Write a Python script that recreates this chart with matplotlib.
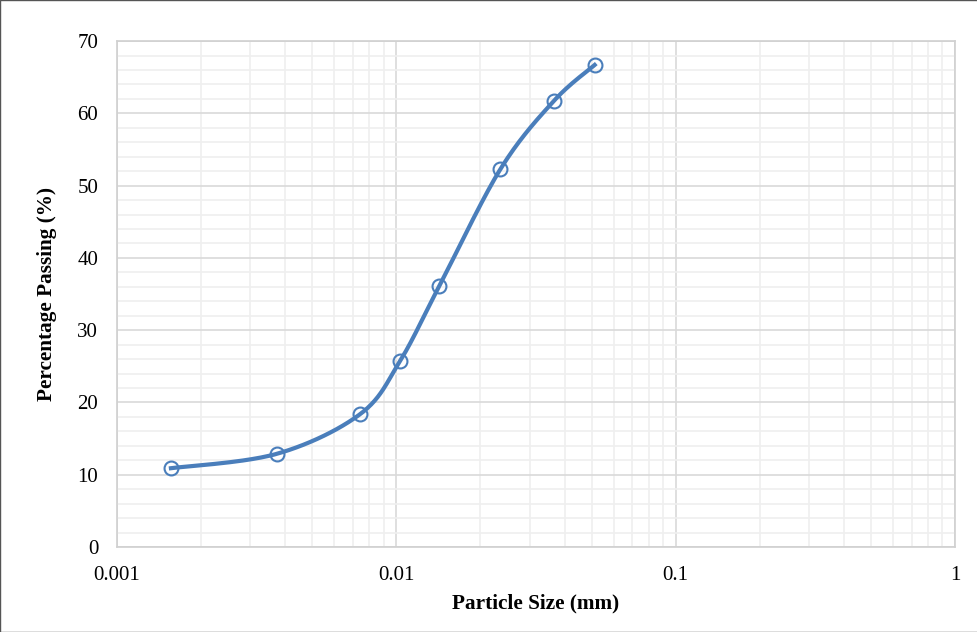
import numpy as np
import matplotlib.pyplot as plt
from matplotlib.ticker import FixedLocator, NullFormatter

# Data
size_mm = [0.00156, 0.00374, 0.00743, 0.0103, 0.01425, 0.0236, 0.0366, 0.0513]
passing = [10.9, 12.9, 18.4, 25.7, 36.1, 52.3, 61.7, 66.7]

plt.rcParams['font.family'] = ['Liberation Serif', 'DejaVu Serif']

fig = plt.figure(figsize=(9.78, 6.32), dpi=100)
ax = fig.add_axes([0.1196, 0.1345, 0.8569, 0.8005])
fig.patches.append(plt.Rectangle((0, 0), 1, 1, transform=fig.transFigure,
                                 fill=False, edgecolor='#555555', linewidth=1.0))


def smooth_curve(x, y, n=40):
    # Excel-style Bezier smoothing done in screen-like units (log x)
    px = np.log10(x) * 279.0
    py = np.array(y) * 7.23
    P = np.column_stack([px, py])
    out = []
    for i in range(len(P) - 1):
        p0 = P[i - 1] if i > 0 else P[i]
        p1, p2 = P[i], P[i + 1]
        p3 = P[i + 2] if i + 2 < len(P) else P[i + 1]
        c1 = p1 + (p2 - p0) / 6.0
        c2 = p2 - (p3 - p1) / 6.0
        t = np.linspace(0, 1, n)[:, None]
        seg = ((1 - t) ** 3) * p1 + 3 * ((1 - t) ** 2) * t * c1 + 3 * (1 - t) * t ** 2 * c2 + t ** 3 * p2
        out.append(seg if i == 0 else seg[1:])
    out = np.vstack(out)
    return 10 ** (out[:, 0] / 279.0), out[:, 1] / 7.23


sx, sy = smooth_curve(size_mm, passing)
ax.plot(sx, sy, color='#4a7ebb', linewidth=3, zorder=3)
ax.plot(size_mm, passing, linestyle='none', marker='o', markersize=10,
        markerfacecolor='none', markeredgecolor='#4a7ebb', markeredgewidth=1.5, zorder=4)

ax.set_xscale('log')
ax.set_xlim(0.001, 1)
ax.set_ylim(0, 70)
ax.set_xticks([0.001, 0.01, 0.1, 1])
ax.set_xticklabels(['0.001', '0.01', '0.1', '1'])
minor_x = [m * 10.0 ** e for e in (-3, -2, -1) for m in range(2, 10)]
ax.xaxis.set_minor_locator(FixedLocator(minor_x))
ax.xaxis.set_minor_formatter(NullFormatter())
ax.set_yticks(range(0, 71, 10))
ax.yaxis.set_minor_locator(FixedLocator([v for v in range(0, 71, 2) if v % 10]))

ax.grid(True, which='major', color='#d9d9d9', linewidth=1.2)
ax.grid(True, which='minor', color='#efefef', linewidth=1.2)
ax.set_axisbelow(True)
for s in ax.spines.values():
    s.set_color('#d0d0d0')
    s.set_linewidth(1.2)
ax.tick_params(which='both', length=0, labelsize=15, colors='black')
ax.tick_params(axis='x', pad=14)
ax.tick_params(axis='y', pad=13.5)

ax.set_xlabel('Particle Size (mm)', fontsize=15.3, fontweight='bold', labelpad=6)
ax.set_ylabel('Percentage Passing (%)', fontsize=15.3, fontweight='bold', labelpad=15)

fig.savefig('out.png', dpi=100)
